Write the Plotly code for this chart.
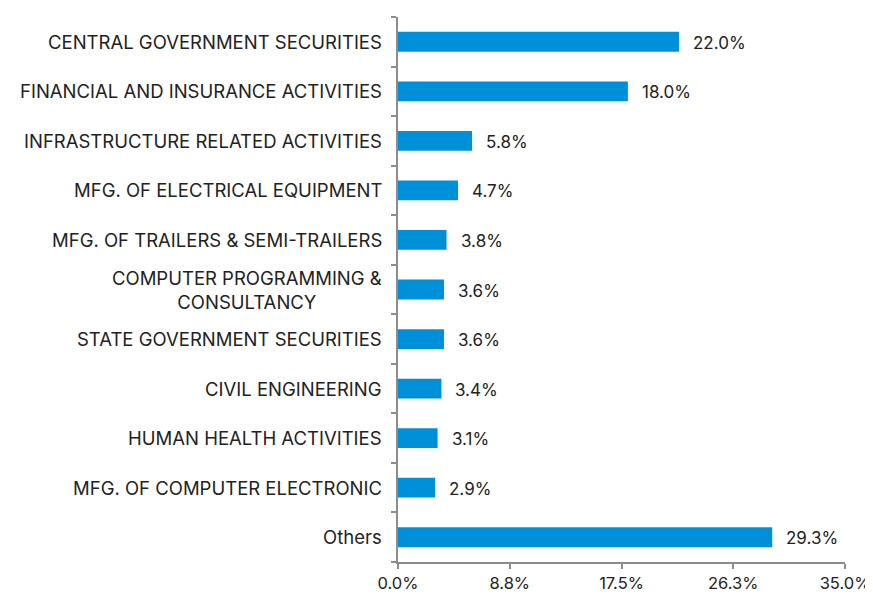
import plotly.graph_objects as go

categories = [
    "CENTRAL GOVERNMENT SECURITIES",
    "FINANCIAL AND INSURANCE ACTIVITIES",
    "INFRASTRUCTURE RELATED ACTIVITIES",
    "MFG. OF ELECTRICAL EQUIPMENT",
    "MFG. OF TRAILERS & SEMI-TRAILERS",
    "COMPUTER PROGRAMMING &<br>CONSULTANCY",
    "STATE GOVERNMENT SECURITIES",
    "CIVIL ENGINEERING",
    "HUMAN HEALTH ACTIVITIES",
    "MFG. OF COMPUTER ELECTRONIC",
    "Others",
]
values = [22.0, 18.0, 5.8, 4.7, 3.8, 3.6, 3.6, 3.4, 3.1, 2.9, 29.3]
tick_vals = [0, 8.75, 17.5, 26.25, 35]
tick_text = ["0.0%", "8.8%", "17.5%", "26.3%", "35.0%"]

FONT = "Inter, Roboto, sans-serif"
ids = list(range(len(categories)))

fig = go.Figure()
fig.add_trace(go.Bar(
    x=values, y=ids, orientation="h",
    marker=dict(color="#0090DA", line=dict(width=0)),
    width=0.4, hoverinfo="skip",
))

annotations = []
for i, (c, v) in enumerate(zip(categories, values)):
    annotations.append(dict(
        x=v, y=i, xref="x", yref="y", text=f"{v:.1f}%",
        xanchor="left", yanchor="middle", xshift=12, yshift=-1, showarrow=False,
        font=dict(family=FONT, size=17, color="#222222"),
    ))
    annotations.append(dict(
        x=0, y=i, xref="paper", yref="y", text=c,
        xanchor="right", yanchor="middle", xshift=-14, showarrow=False,
        align="center",
        font=dict(family=FONT, size=18.5, color="#222222"),
    ))

fig.update_layout(
    width=865, height=587,
    margin=dict(l=390, r=28, t=9, b=33),
    plot_bgcolor="white", paper_bgcolor="white",
    showlegend=False,
    annotations=annotations,
    xaxis=dict(
        range=[0, 35], tickvals=tick_vals, ticktext=tick_text,
        automargin=False,
        showgrid=False, zeroline=False,
        showline=True, linecolor="#8c8c8c", linewidth=1.5,
        ticks="outside", ticklen=5, tickcolor="#8c8c8c", tickwidth=1.5,
        tickfont=dict(family=FONT, size=16.5, color="#222222"),
    ),
    yaxis=dict(
        range=[10.5, -0.5], tickmode="array",
        tickvals=[i - 0.5 for i in range(len(categories) + 1)],
        ticktext=[""] * (len(categories) + 1),
        automargin=False,
        showgrid=False, zeroline=False,
        showline=True, linecolor="#8c8c8c", linewidth=1.5,
        ticks="outside", ticklen=5, tickcolor="#8c8c8c", tickwidth=1.5,
    ),
)

fig.write_html("out.html")
